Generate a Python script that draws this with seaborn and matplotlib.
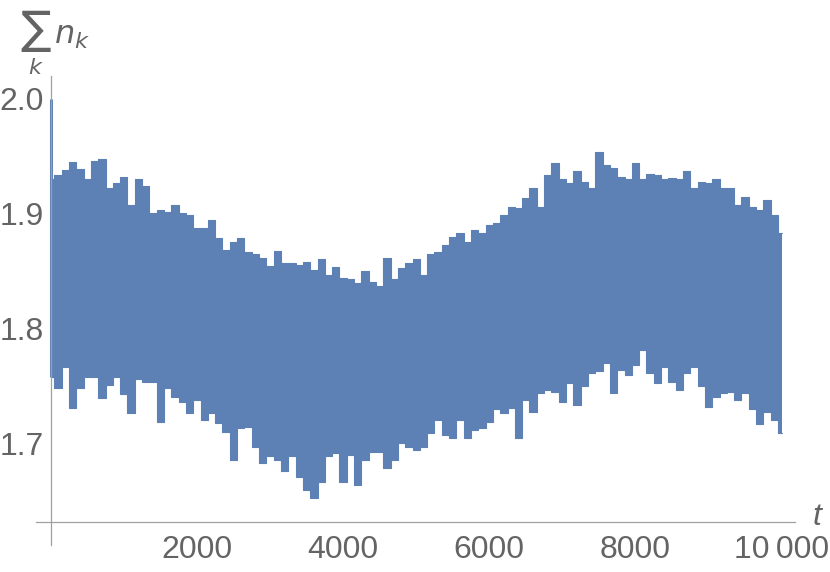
import numpy as np
import pandas as pd
import seaborn as sns
import matplotlib.pyplot as plt
from matplotlib.ticker import MultipleLocator

t = list(range(0, 10001, 100))
upper = [1.930, 1.934, 1.938, 1.945, 1.939, 1.930, 1.946, 1.948, 1.923, 1.927,
         1.932, 1.908, 1.930, 1.924, 1.901, 1.903, 1.902, 1.908, 1.901, 1.899,
         1.888, 1.888, 1.895, 1.879, 1.869, 1.876, 1.879, 1.867, 1.865, 1.862,
         1.855, 1.868, 1.857, 1.857, 1.856, 1.858, 1.851, 1.861, 1.847, 1.854,
         1.844, 1.843, 1.840, 1.850, 1.841, 1.837, 1.862, 1.843, 1.853, 1.857,
         1.861, 1.847, 1.865, 1.867, 1.873, 1.880, 1.883, 1.876, 1.886, 1.883,
         1.890, 1.892, 1.899, 1.906, 1.905, 1.914, 1.923, 1.906, 1.934, 1.944,
         1.930, 1.927, 1.937, 1.928, 1.923, 1.954, 1.943, 1.940, 1.932, 1.930,
         1.944, 1.930, 1.935, 1.934, 1.930, 1.931, 1.930, 1.937, 1.923, 1.928,
         1.927, 1.930, 1.923, 1.923, 1.908, 1.915, 1.906, 1.903, 1.912, 1.899,
         1.883]
lower = [1.758, 1.749, 1.767, 1.731, 1.749, 1.758, 1.758, 1.740, 1.751, 1.758,
         1.743, 1.727, 1.756, 1.754, 1.754, 1.719, 1.749, 1.741, 1.736, 1.727,
         1.738, 1.721, 1.727, 1.718, 1.710, 1.686, 1.714, 1.715, 1.697, 1.683,
         1.689, 1.686, 1.676, 1.689, 1.671, 1.660, 1.653, 1.667, 1.689, 1.692,
         1.667, 1.690, 1.664, 1.686, 1.693, 1.693, 1.679, 1.686, 1.701, 1.697,
         1.695, 1.697, 1.709, 1.721, 1.708, 1.705, 1.721, 1.705, 1.712, 1.714,
         1.719, 1.730, 1.727, 1.731, 1.705, 1.738, 1.728, 1.744, 1.747, 1.745,
         1.736, 1.753, 1.734, 1.750, 1.762, 1.763, 1.770, 1.744, 1.764, 1.760,
         1.769, 1.782, 1.762, 1.753, 1.767, 1.754, 1.747, 1.762, 1.767, 1.750,
         1.732, 1.741, 1.744, 1.745, 1.738, 1.744, 1.730, 1.717, 1.728, 1.721,
         1.709]
start_value = 2.0

xticks = [2000, 4000, 6000, 8000, 10000]
xtick_labels = ['2000', '4000', '6000', '8000', '10\u2009000']
yticks = [1.7, 1.8, 1.9, 2.0]
ytick_labels = ['1.7', '1.8', '1.9', '2.0']

df = pd.DataFrame({'t': t, 'upper': upper, 'lower': lower})

blue = '#5e81b5'
axis_gray = '#a0a0a0'
text_gray = '#646464'

sns.set_style('white')
plt.rcParams['font.family'] = ['Liberation Sans', 'DejaVu Sans']

fig = plt.figure(figsize=(8.3, 5.72), dpi=100)
ax = fig.add_axes([36 / 830, 27 / 572, 759 / 830, 469 / 572])

ax.fill_between(df['t'], df['lower'], df['upper'], step='mid', color=blue, lw=0)
sns.lineplot(data=df, x='t', y='upper', estimator=None, drawstyle='steps-mid',
             color=blue, lw=0.8, ax=ax)
sns.lineplot(data=df, x='t', y='lower', estimator=None, drawstyle='steps-mid',
             color=blue, lw=0.8, ax=ax)
# the first sample sits at 2.0
ax.vlines(df['t'].iloc[0], df['lower'].iloc[0], start_value, color=blue, lw=2.2)

ax.set_xlim(-201, 10182)
ax.set_ylim(1.612, 2.02)

for side in ['top', 'right']:
    ax.spines[side].set_visible(False)
ax.spines['left'].set_position(('data', 0))
ax.spines['bottom'].set_position(('data', 1.632))
for side in ['left', 'bottom']:
    ax.spines[side].set_color(axis_gray)
    ax.spines[side].set_linewidth(0.9)

ax.set_xticks(xticks)
ax.set_xticklabels(xtick_labels)
ax.set_yticks(yticks)
ax.set_yticklabels(ytick_labels)
ax.xaxis.set_minor_locator(MultipleLocator(500))
ax.yaxis.set_minor_locator(MultipleLocator(0.02))
ax.tick_params(which='both', direction='in', color=axis_gray, width=0.9,
               labelcolor=text_gray, labelsize=23)
ax.tick_params(which='major', length=6.5)
ax.tick_params(which='minor', length=4.3)
ax.tick_params(axis='x', pad=9)
ax.tick_params(axis='y', pad=5)
ax.set_xlabel('')
ax.set_ylabel('')

fig.text(813 / 830, 1 - 517 / 572, 't', style='italic', color=text_gray,
         fontsize=23, ha='left', va='center')
fig.text(20 / 830, 1 - 8 / 572, r'$\sum_k\, n_k$', color=text_gray,
         fontsize=23, ha='left', va='top')

fig.savefig('out.png', dpi=100)
